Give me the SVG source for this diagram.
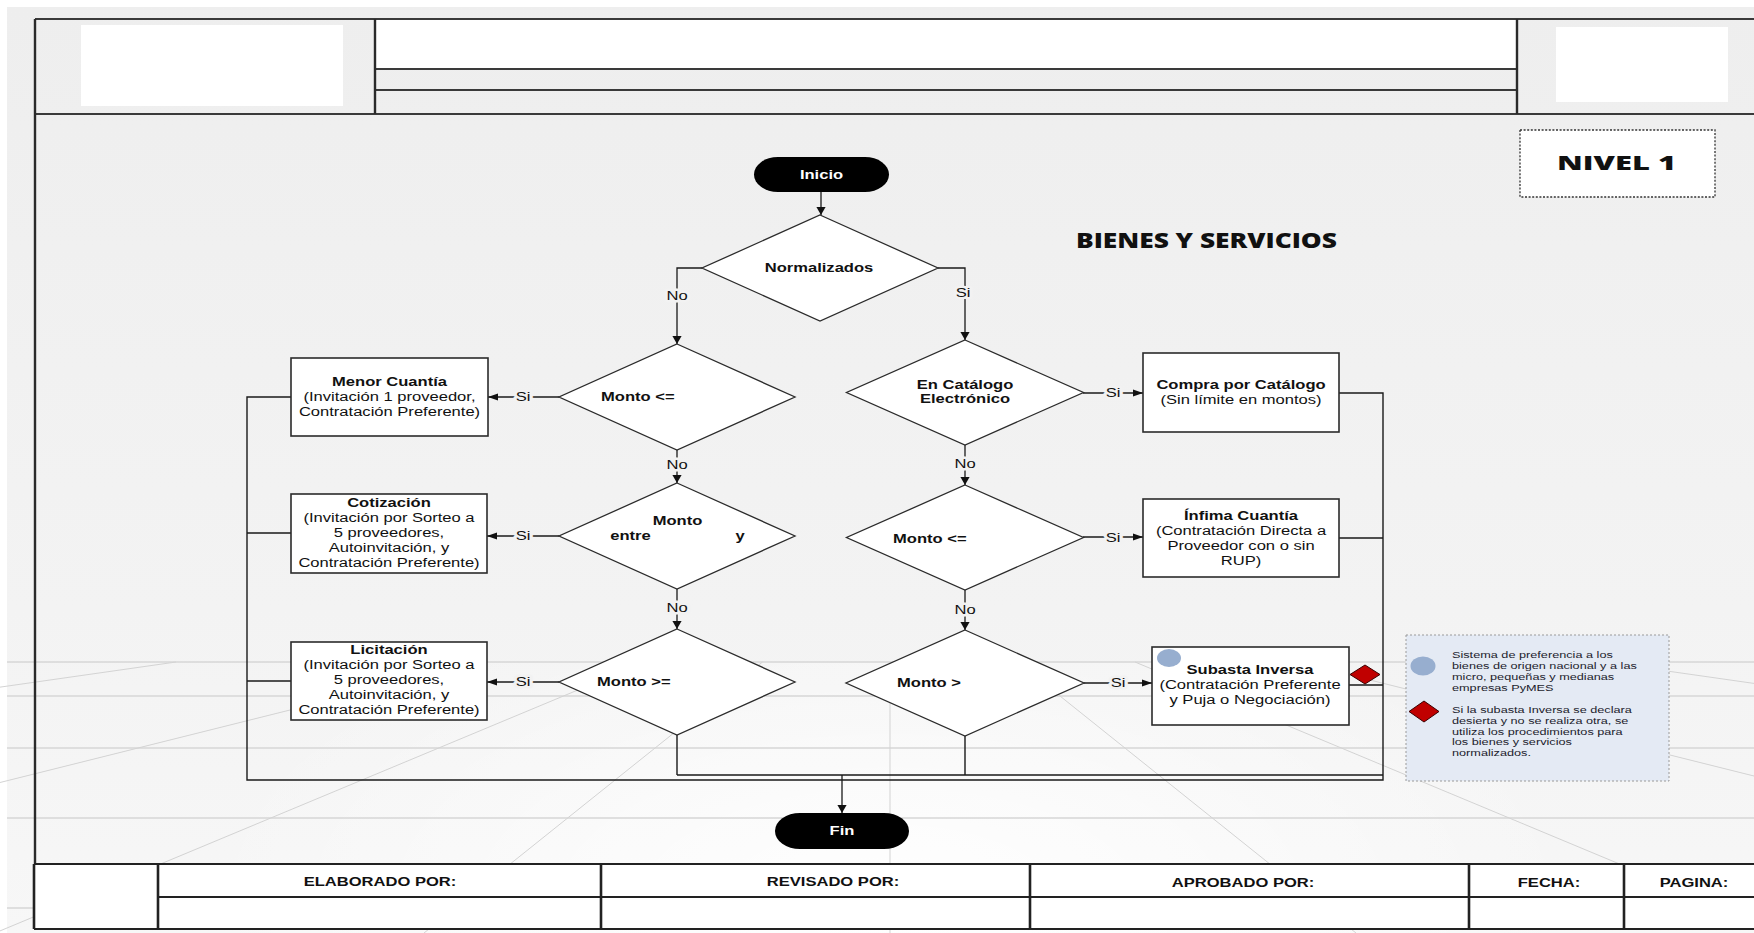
<svg xmlns="http://www.w3.org/2000/svg" width="1754" height="933" viewBox="0 0 1754 933">
  <defs>
    <style>
      .ln{fill:none;stroke:#1a1a1a;stroke-width:1.3}
      .bus{fill:none;stroke:#1a1a1a;stroke-width:1.4}
      .box{fill:#fff;stroke:#2b2b2b;stroke-width:1.6}
      .dia{fill:#fff;stroke:#2b2b2b;stroke-width:1.3}
      .t{font-family:"Liberation Sans",Arial,sans-serif;font-size:12px;fill:#111;text-anchor:middle}
      .st{text-anchor:start}
      .b{font-weight:bold}
      .w{fill:#fff}
      .lab{font-family:"Liberation Sans",Arial,sans-serif;font-size:12px;fill:#111;text-anchor:middle;paint-order:stroke;stroke:#f2f2f2;stroke-width:5px;stroke-linejoin:round}
      .grid{fill:none;stroke:#d3d3d3;stroke-width:1}
      .hz{fill:none;stroke:#d6d6d6;stroke-width:1.6}
      .fr{fill:none;stroke:#3a3a3a;stroke-width:2}
      .frv{fill:none;stroke:#2a2a2a;stroke-width:2.4}
      .head{font-family:"Open Sans","Liberation Sans",Arial,sans-serif;font-weight:800;fill:#111}
      .leg{font-family:"Liberation Sans",Arial,sans-serif;font-size:9.2px;fill:#1c1c2c}
    </style>
    <marker id="arrH" viewBox="0 0 10 8" refX="10" refY="4" markerWidth="10" markerHeight="8" markerUnits="userSpaceOnUse" orient="auto">
      <path d="M0,0.6 L10,4 L0,7.4 z" fill="#111"/>
    </marker>
    <marker id="arrV" viewBox="0 0 8 10" refX="8" refY="5" markerWidth="8" markerHeight="10" markerUnits="userSpaceOnUse" orient="auto">
      <path d="M0,0.4 L8,5 L0,9.6 z" fill="#111"/>
    </marker>
    <linearGradient id="panelGrad" x1="0" y1="0" x2="0" y2="1">
      <stop offset="0" stop-color="#eeeeee"/>
      <stop offset="0.65" stop-color="#f3f3f3"/>
      <stop offset="1" stop-color="#f7f7f7"/>
    </linearGradient>
    <radialGradient id="floorGlow" cx="890" cy="900" r="700" gradientUnits="userSpaceOnUse" gradientTransform="translate(890 900) scale(1 0.45) translate(-890 -900)">
      <stop offset="0" stop-color="#ffffff" stop-opacity="0.95"/>
      <stop offset="1" stop-color="#ffffff" stop-opacity="0"/>
    </radialGradient>
  </defs>

  <!-- page background with perspective floor -->
  <g id="background">
    <rect x="0" y="0" width="1754" height="933" fill="#ffffff"/>
    <rect x="7" y="7" width="1747" height="926" fill="url(#panelGrad)"/>
    <rect x="7" y="662" width="1747" height="271" fill="url(#floorGlow)"/>
    <path class="hz" d="M7,662 H1754 M7,696 H1754 M7,748 H1754 M7,818 H1754 M7,908 H1754"/>
    <path class="grid" d="M890,662 V933
      M762.5,662 L424,933 M1017.5,662 L1356,933
      M645,662 L-5,933 M1135,662 L1785,933
      M482,662 L-602,933 M1298,662 L2382,933
      M176,662 L-1721,933 M1604,662 L3501,933"/>
  </g>

  <!-- header and outer frame -->
  <g id="page-frame">
    <rect x="376" y="20" width="1140" height="49" fill="#ffffff"/>
    <rect x="81" y="25" width="262" height="81" fill="#ffffff"/>
    <rect x="1556" y="27" width="172" height="75" fill="#ffffff"/>
    <path class="fr" d="M35,19 H1754 M35,114 H1754 M375,69 H1517 M375,90 H1517"/>
    <path class="frv" d="M35,19 V864 M375,19 V114 M1517,19 V114"/>
  </g>

  <g id="nivel">
    <rect x="1520" y="130" width="195" height="67" fill="#ffffff" stroke="#333" stroke-width="1.3" stroke-dasharray="2 1.6"/>
    <text class="head" x="1557" y="170" font-size="19" textLength="119" lengthAdjust="spacingAndGlyphs">NIVEL 1</text>
  </g>

  <g id="titulo">
    <text class="head" x="1076" y="248" font-size="21" textLength="261" lengthAdjust="spacingAndGlyphs">BIENES Y SERVICIOS</text>
  </g>

  <!-- connectors -->
  <g id="connectors">
    <path class="ln" d="M821,192 V215" marker-end="url(#arrV)"/>
    <path class="ln" d="M702,268 H677 V344" marker-end="url(#arrV)"/>
    <path class="ln" d="M938,268 H965 V340" marker-end="url(#arrV)"/>
    <path class="ln" d="M559,397 H488" marker-end="url(#arrH)"/>
    <path class="ln" d="M677,450 V483" marker-end="url(#arrV)"/>
    <path class="ln" d="M559,536 H487" marker-end="url(#arrH)"/>
    <path class="ln" d="M677,589 V629" marker-end="url(#arrV)"/>
    <path class="ln" d="M559,682 H487" marker-end="url(#arrH)"/>
    <path class="ln" d="M1083,393 H1143" marker-end="url(#arrH)"/>
    <path class="ln" d="M965,445 V485" marker-end="url(#arrV)"/>
    <path class="ln" d="M1083,537 H1143" marker-end="url(#arrH)"/>
    <path class="ln" d="M965,590 V630" marker-end="url(#arrV)"/>
    <path class="ln" d="M1084,683 H1152" marker-end="url(#arrH)"/>
    <path class="bus" d="M291,397 H247 V780 H1383 V393 H1339 M291,533 H247 M291,681 H247 M1339,538 H1383 M1349,685 H1383"/>
    <path class="bus" d="M677,735 V775 M965,736 V775 M677,775 H1383"/>
    <path class="ln" d="M842,775 V813" marker-end="url(#arrV)"/>
    <text class="lab" transform="translate(677 300.3) scale(1.38 1)">No</text>
    <text class="lab" transform="translate(963 297.3) scale(1.38 1)">Si</text>
    <text class="lab" transform="translate(523 401.3) scale(1.38 1)">Si</text>
    <text class="lab" transform="translate(677 469.3) scale(1.38 1)">No</text>
    <text class="lab" transform="translate(523 540.3) scale(1.38 1)">Si</text>
    <text class="lab" transform="translate(677 612.3) scale(1.38 1)">No</text>
    <text class="lab" transform="translate(523 686.3) scale(1.38 1)">Si</text>
    <text class="lab" transform="translate(1113 397.3) scale(1.38 1)">Si</text>
    <text class="lab" transform="translate(965 468.3) scale(1.38 1)">No</text>
    <text class="lab" transform="translate(1113 542.3) scale(1.38 1)">Si</text>
    <text class="lab" transform="translate(965 614.3) scale(1.38 1)">No</text>
    <text class="lab" transform="translate(1118 687.3) scale(1.38 1)">Si</text>
  </g>

  <!-- terminals -->
  <g id="inicio">
    <rect x="754" y="157" width="135" height="35" rx="24" ry="17.5" fill="#000"/>
    <text class="t b w" transform="translate(821.5 178.8) scale(1.38 1)">Inicio</text>
  </g>
  <g id="fin">
    <rect x="775" y="813" width="134" height="36" rx="25" ry="18" fill="#000"/>
    <text class="t b w" transform="translate(842 835.3) scale(1.38 1)">Fin</text>
  </g>

  <!-- decisions -->
  <g id="normalizados">
    <polygon class="dia" points="820,215 938,268 820,321 702,268"/>
    <text class="t b" transform="translate(819 271.6) scale(1.38 1)">Normalizados</text>
  </g>
  <g id="monto-menor-igual-1">
    <polygon class="dia" points="677,344 795,397 677,450 559,397"/>
    <text class="t b st" transform="translate(601 401) scale(1.38 1)">Monto &lt;=</text>
  </g>
  <g id="monto-entre">
    <polygon class="dia" points="677,483 795,536 677,589 559,536"/>
    <text class="t b" transform="translate(677.5 525) scale(1.38 1)">Monto</text>
    <text class="t b" transform="translate(630.5 540.3) scale(1.38 1)">entre</text>
    <text class="t b" transform="translate(740 540.3) scale(1.38 1)">y</text>
  </g>
  <g id="monto-mayor-igual">
    <polygon class="dia" points="677,629 795,682 677,735 559,682"/>
    <text class="t b st" transform="translate(597 686) scale(1.38 1)">Monto &gt;=</text>
  </g>
  <g id="catalogo-electronico">
    <polygon class="dia" points="965,340 1083.5,392.5 965,445 846.5,392.5"/>
    <text class="t b" transform="translate(965 392) scale(1.38 1)"><tspan x="0" y="-2.7">En Catálogo</tspan><tspan x="0" y="11.3">Electrónico</tspan></text>
  </g>
  <g id="monto-menor-igual-2">
    <polygon class="dia" points="965,485 1083.5,537.5 965,590 846.5,537.5"/>
    <text class="t b st" transform="translate(893 542.6) scale(1.38 1)">Monto &lt;=</text>
  </g>
  <g id="monto-mayor">
    <polygon class="dia" points="965,630 1084,683 965,736 846,683"/>
    <text class="t b st" transform="translate(897 687) scale(1.38 1)">Monto &gt;</text>
  </g>

  <!-- procedures -->
  <g id="menor-cuantia">
    <rect class="box" x="291" y="358" width="197" height="78"/>
    <text class="t" transform="translate(389.5 397) scale(1.38 1)"><tspan class="b" x="0" y="-10.7">Menor Cuantía</tspan><tspan x="0" y="4.3">(Invitación 1 proveedor,</tspan><tspan x="0" y="19.3">Contratación Preferente)</tspan></text>
  </g>
  <g id="cotizacion">
    <rect class="box" x="291" y="494" width="196" height="79"/>
    <text class="t" transform="translate(389 533) scale(1.38 1)"><tspan class="b" x="0" y="-25.7">Cotización</tspan><tspan x="0" y="-10.7">(Invitación por Sorteo a</tspan><tspan x="0" y="4.3">5 proveedores,</tspan><tspan x="0" y="19.3">Autoinvitación, y</tspan><tspan x="0" y="34.3">Contratación Preferente)</tspan></text>
  </g>
  <g id="licitacion">
    <rect class="box" x="291" y="642" width="196" height="78"/>
    <text class="t" transform="translate(389 680) scale(1.38 1)"><tspan class="b" x="0" y="-25.7">Licitación</tspan><tspan x="0" y="-10.7">(Invitación por Sorteo a</tspan><tspan x="0" y="4.3">5 proveedores,</tspan><tspan x="0" y="19.3">Autoinvitación, y</tspan><tspan x="0" y="34.3">Contratación Preferente)</tspan></text>
  </g>
  <g id="compra-catalogo">
    <rect class="box" x="1143" y="353" width="196" height="79"/>
    <text class="t" transform="translate(1241 392.5) scale(1.38 1)"><tspan class="b" x="0" y="-3.2">Compra por Catálogo</tspan><tspan x="0" y="11.8">(Sin límite en montos)</tspan></text>
  </g>
  <g id="infima-cuantia">
    <rect class="box" x="1143" y="499" width="196" height="78"/>
    <text class="t" transform="translate(1241 538) scale(1.38 1)"><tspan class="b" x="0" y="-18.2">Ínfima Cuantía</tspan><tspan x="0" y="-3.2">(Contratación Directa a</tspan><tspan x="0" y="11.8">Proveedor con o sin</tspan><tspan x="0" y="26.8">RUP)</tspan></text>
  </g>
  <g id="subasta-inversa">
    <rect class="box" x="1152" y="647" width="197" height="78"/>
    <ellipse cx="1169" cy="658" rx="12" ry="9" fill="#97aecf"/>
    <text class="t" transform="translate(1250 685) scale(1.38 1)"><tspan class="b" x="0" y="-10.7">Subasta Inversa</tspan><tspan x="0" y="4.3">(Contratación Preferente</tspan><tspan x="0" y="19.3">y Puja o Negociación)</tspan></text>
    <polygon points="1365,665 1380,674.5 1365,684 1350,674.5" fill="#c00000" stroke="#3a0000" stroke-width="1"/>
  </g>

  <!-- legend -->
  <g id="leyenda">
    <rect x="1406" y="635" width="263" height="146" fill="#e4eaf4" stroke="#9a9a9a" stroke-width="1" stroke-dasharray="2 2"/>
    <ellipse cx="1423" cy="666" rx="12.5" ry="9.5" fill="#97aecf"/>
    <polygon points="1424,701 1439,711.5 1424,722 1409,711.5" fill="#c00000" stroke="#3a0000" stroke-width="1"/>
    <text class="leg" transform="translate(1452 0) scale(1.38 1)"><tspan x="0" y="658">Sistema de preferencia a los</tspan><tspan x="0" y="669">bienes de origen nacional y a las</tspan><tspan x="0" y="680">micro, pequeñas y medianas</tspan><tspan x="0" y="691">empresas PyMES</tspan><tspan x="0" y="713">Si la subasta Inversa se declara</tspan><tspan x="0" y="724">desierta y no se realiza otra, se</tspan><tspan x="0" y="735">utiliza los procedimientos para</tspan><tspan x="0" y="745.5">los bienes y servicios</tspan><tspan x="0" y="756">normalizados.</tspan></text>
  </g>

  <!-- signature block -->
  <g id="footer">
    <rect x="34" y="864" width="1740" height="65" fill="#ffffff"/>
    <path fill="none" stroke="#222" stroke-width="1.8" d="M34,864 H1754 M158,897 H1754 M34,929 H1754"/>
    <path fill="none" stroke="#222" stroke-width="2.6" d="M34,864 V929 M158,864 V929 M601,864 V929 M1030,864 V929 M1469,864 V929 M1624,864 V929"/>
    <text class="t b" transform="translate(380 886) scale(1.38 1)">ELABORADO POR:</text>
    <text class="t b" transform="translate(833 886) scale(1.38 1)">REVISADO POR:</text>
    <text class="t b" transform="translate(1243 887) scale(1.38 1)">APROBADO POR:</text>
    <text class="t b" transform="translate(1549 887) scale(1.38 1)">FECHA:</text>
    <text class="t b" transform="translate(1694 887) scale(1.38 1)">PAGINA:</text>
  </g>
</svg>
